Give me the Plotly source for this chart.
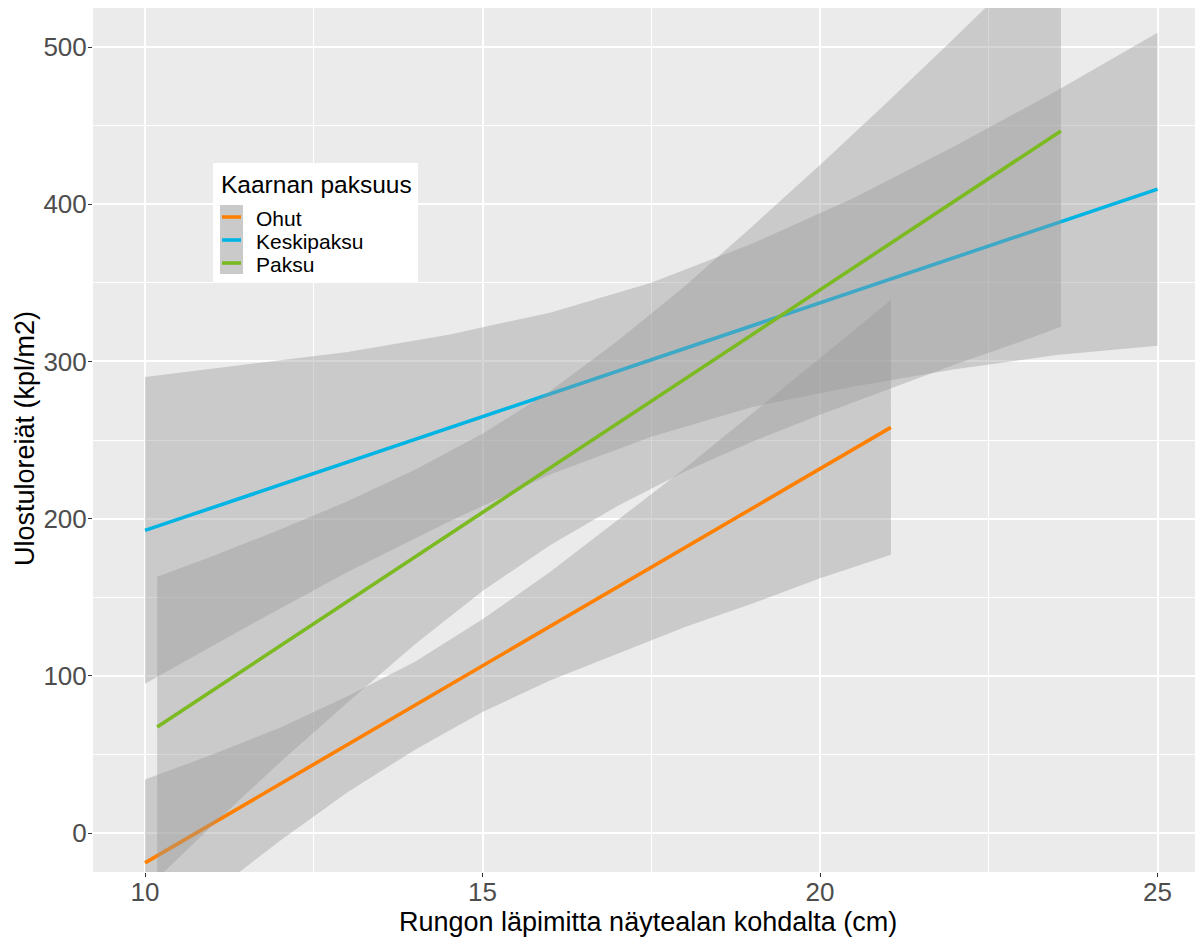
import plotly.graph_objects as go

# ---------------- data ----------------
groups = ["Ohut", "Keskipaksu", "Paksu"]
line_colors = ["#FF8000", "#00B4E4", "#7CBA22"]

# fitted lines (start / end of each regression line)
ohut_line_x = [10.0, 21.05]
ohut_line_y = [-19, 258]
kesk_line_x = [10.0, 25.0]
kesk_line_y = [192.5, 409.6]
paksu_line_x = [10.18, 23.57]
paksu_line_y = [67.4, 446.6]

# confidence bands (x, lower, upper)
ohut_band_x = [10, 11, 12, 13, 14, 15, 16, 17, 18, 19, 20, 21.05]
ohut_band_lo = [-72, -38, -5, 26, 53, 77, 97, 114, 131, 146, 162, 177]
ohut_band_hi = [34, 50, 67, 87, 109, 136, 166, 199, 232, 267, 302, 339]

kesk_band_x = [10, 11.5, 13, 14.5, 16, 17.5, 19, 20.5, 22, 23.5, 25]
kesk_band_lo = [95, 131, 166, 198, 228, 252, 271, 284, 295, 304, 310]
kesk_band_hi = [290, 298, 306, 317, 331, 350, 375, 404, 437, 472, 509]

paksu_band_x = [10.18, 11, 12, 13, 14, 15, 16, 17, 18, 19, 20, 21, 22, 23, 23.57]
paksu_band_lo = [-29, 5, 45, 83, 120, 154, 183, 208, 230, 249, 266, 282, 298, 313, 322]
paksu_band_hi = [163, 176, 193, 211, 231, 254, 281, 313, 348, 386, 425, 465, 506, 548, 572]

x_ticks = [10, 15, 20, 25]
y_ticks = [0, 100, 200, 300, 400, 500]
x_title = "Rungon läpimitta näytealan kohdalta (cm)"
y_title = "Ulostuloreiät (kpl/m2)"
legend_title = "Kaarnan paksuus"

# ---------------- figure ----------------
FONT = "Liberation Sans, Arial, sans-serif"
BAND_FILL = "rgba(153,153,153,0.4)"

lines = [(ohut_line_x, ohut_line_y), (kesk_line_x, kesk_line_y), (paksu_line_x, paksu_line_y)]
bands = [(ohut_band_x, ohut_band_lo, ohut_band_hi),
         (kesk_band_x, kesk_band_lo, kesk_band_hi),
         (paksu_band_x, paksu_band_lo, paksu_band_hi)]

fig = go.Figure()
for name, col, (lx, ly), (bx, blo, bhi) in zip(groups, line_colors, lines, bands):
    fig.add_trace(go.Scatter(
        x=list(bx) + list(bx)[::-1], y=list(bhi) + list(blo)[::-1],
        fill="toself", fillcolor=BAND_FILL, mode="lines", line=dict(width=0),
        hoverinfo="skip", showlegend=False, name=name + " CI"))
    fig.add_trace(go.Scatter(
        x=lx, y=ly, mode="lines", line=dict(color=col, width=3.6),
        name=name, showlegend=False))

# The page places the figure 8 px from the top-left corner (body margin),
# so the figure is sized to end at the window edge.
OFF = 8
W, H = 1203 - OFF, 940 - OFF
PL, PR, PT, PB = 93, 1203, 8, 872          # plot area in page pixels
L, T = PL - OFF, PT - OFF
R = (W + OFF) - PR
B = (H + OFF) - PB
pw, ph = PR - PL, PB - PT

# value <-> page pixel scale of the reference: x 10 at 145, 67.5 px/unit; y 0 at 833, 1.572 px/unit
x_rng = [10 + (PL - 145) / 67.5, 10 + (PR - 145) / 67.5]
y_rng = [(833 - PB) / 1.572, (833 - PT) / 1.572]


def px(xp):
    return (xp - PL) / pw


def py(yp):
    return (PB - yp) / ph


shapes = [
    dict(type="rect", xref="paper", yref="paper", x0=px(213), x1=px(418), y0=py(282), y1=py(163),
         fillcolor="white", line=dict(width=0), layer="above"),
    dict(type="rect", xref="paper", yref="paper", x0=px(220), x1=px(243), y0=py(274), y1=py(205),
         fillcolor="#CACACA", line=dict(width=0), layer="above"),
]
annotations = [
    dict(xref="paper", yref="paper", x=px(219), y=py(184), text=legend_title, showarrow=False,
         xanchor="left", yanchor="middle", font=dict(family=FONT, size=24.5, color="black")),
    dict(xref="paper", yref="paper", x=px(648), y=py(922), text=x_title, showarrow=False,
         xanchor="center", yanchor="middle", font=dict(family=FONT, size=27, color="black")),
    dict(xref="paper", yref="paper", x=px(25), y=py(439), text=y_title, showarrow=False,
         textangle=-90, xanchor="center", yanchor="middle",
         font=dict(family=FONT, size=27, color="black")),
]
key_y = [217, 240, 263]
for name, col, ky in zip(groups, line_colors, key_y):
    shapes.append(dict(type="line", xref="paper", yref="paper", x0=px(222), x1=px(241),
                       y0=py(ky), y1=py(ky), line=dict(color=col, width=3.6), layer="above"))
    annotations.append(dict(xref="paper", yref="paper", x=px(254), y=py(ky + 1), text=name,
                            showarrow=False, xanchor="left", yanchor="middle",
                            font=dict(family=FONT, size=21, color="black")))

fig.update_layout(
    width=W, height=H,
    margin=dict(l=L, r=R, t=T, b=B, pad=0, autoexpand=False),
    paper_bgcolor="white", plot_bgcolor="#EBEBEB",
    font=dict(family=FONT),
    shapes=shapes, annotations=annotations,
    showlegend=False,
)
fig.update_xaxes(
    range=x_rng, tickvals=x_ticks, ticktext=[str(v) for v in x_ticks],
    showgrid=True, gridcolor="white", gridwidth=1.5, zeroline=False, automargin=False,
    minor=dict(tickvals=[12.5, 17.5, 22.5], showgrid=True, gridcolor="white", gridwidth=0.7, ticks=""),
    ticks="outside", ticklen=4, tickcolor="#333333", tickwidth=1,
    ticklabelstandoff=-7,
    tickfont=dict(family=FONT, size=26, color="#4D4D4D"),
    showline=False,
)
fig.update_yaxes(
    range=y_rng, tickvals=y_ticks, ticktext=[str(v) for v in y_ticks],
    showgrid=True, gridcolor="white", gridwidth=1.5, zeroline=False, automargin=False,
    minor=dict(tickvals=[50, 150, 250, 350, 450], showgrid=True, gridcolor="white", gridwidth=0.7, ticks=""),
    ticks="outside", ticklen=4, tickcolor="#333333", tickwidth=1,
    ticklabelstandoff=-4,
    tickfont=dict(family=FONT, size=26, color="#4D4D4D"),
    showline=False,
)

fig.write_html("out.html")
